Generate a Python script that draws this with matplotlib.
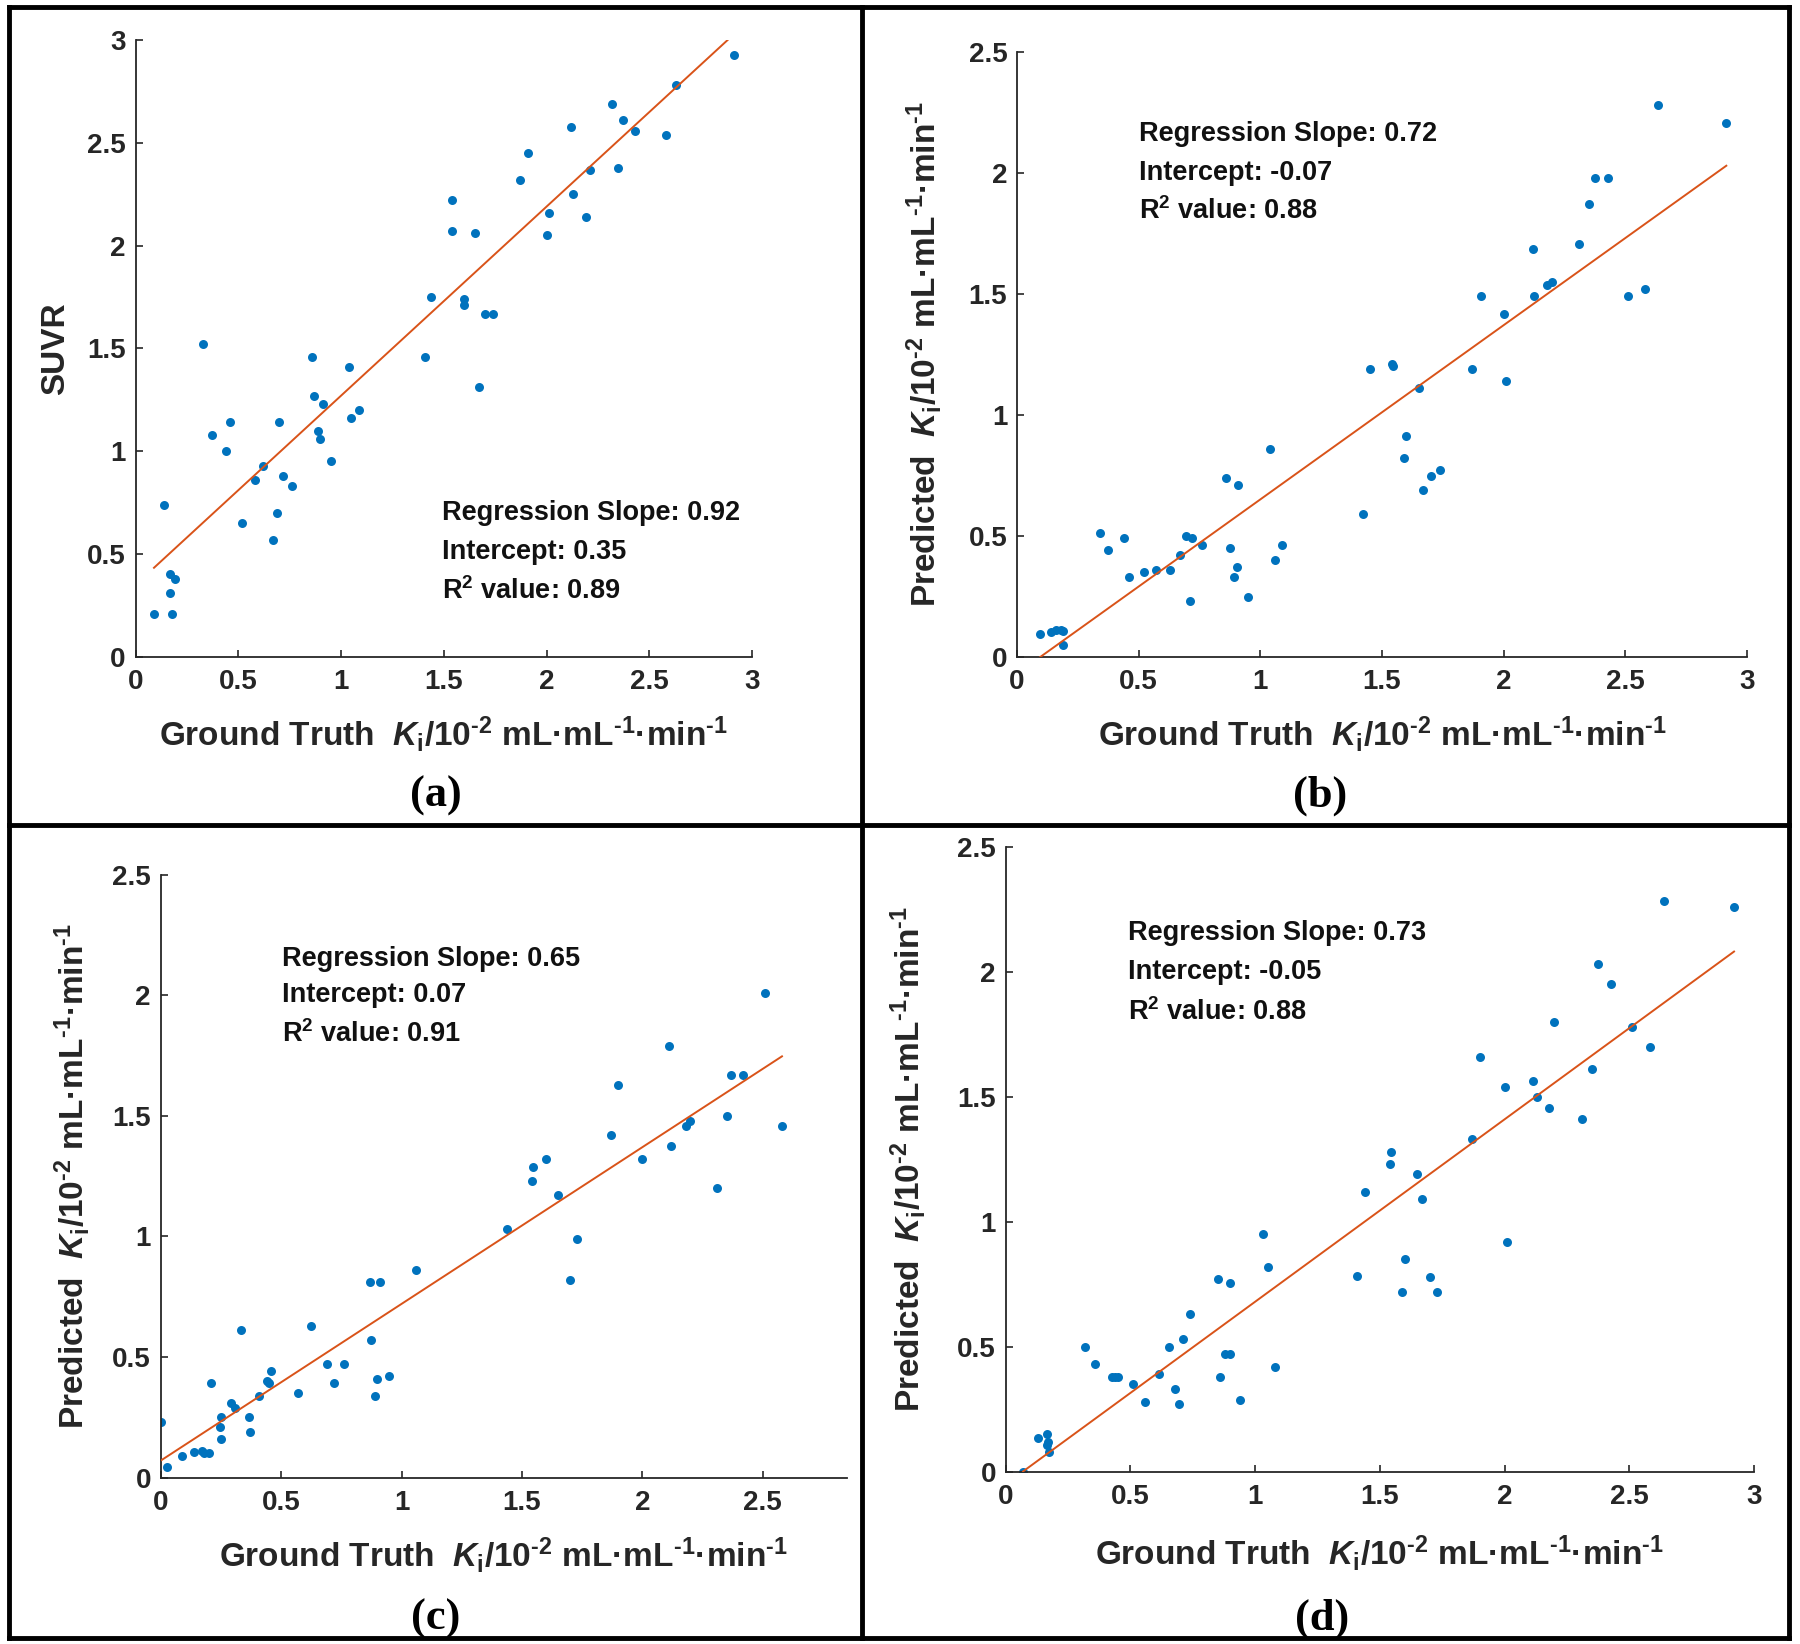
import numpy as np
import matplotlib
matplotlib.use('Agg')
import matplotlib.pyplot as plt
from matplotlib.lines import Line2D

plt.rcParams['font.family'] = ['Liberation Sans', 'DejaVu Sans']
plt.rcParams['font.weight'] = 'bold'
plt.rcParams['axes.labelweight'] = 'bold'
plt.rcParams['mathtext.fontset'] = 'custom'
plt.rcParams['mathtext.rm'] = 'Liberation Sans:bold'
plt.rcParams['mathtext.it'] = 'Liberation Sans:italic:bold'
plt.rcParams['mathtext.bf'] = 'Liberation Sans:bold'

# (a) SUVR vs ground truth Ki
a_x = [0.09, 0.14, 0.17, 0.19, 0.17, 0.18, 0.33, 0.37, 0.44, 0.46, 0.52, 0.58, 0.62,
       0.67, 0.69, 0.70, 0.72, 0.76, 0.86, 0.87, 0.91, 0.89, 0.90, 0.95, 1.04, 1.05,
       1.09, 1.41, 1.44, 1.54, 1.54, 1.60, 1.60, 1.65, 1.67, 1.70, 1.74, 1.87, 1.91,
       2.00, 2.01, 2.12, 2.13, 2.19, 2.21, 2.32, 2.35, 2.37, 2.43, 2.58, 2.63, 2.91]
a_y = [0.21, 0.74, 0.40, 0.38, 0.31, 0.21, 1.52, 1.08, 1.00, 1.14, 0.65, 0.86, 0.93,
       0.57, 0.70, 1.14, 0.88, 0.83, 1.46, 1.27, 1.23, 1.10, 1.06, 0.95, 1.41, 1.16,
       1.20, 1.46, 1.75, 2.22, 2.07, 1.74, 1.71, 2.06, 1.31, 1.67, 1.67, 2.32, 2.45,
       2.05, 2.16, 2.58, 2.25, 2.14, 2.37, 2.69, 2.38, 2.61, 2.56, 2.54, 2.78, 2.93]

# (b)
b_x = [0.095, 0.14, 0.16, 0.18, 0.19, 0.19, 0.34, 0.375, 0.44, 0.46, 0.52, 0.57, 0.63,
       0.67, 0.695, 0.72, 0.76, 0.71, 0.86, 0.91, 0.875, 0.89, 0.905, 0.95, 1.04, 1.06,
       1.09, 1.42, 1.45, 1.54, 1.545, 1.60, 1.59, 1.65, 1.67, 1.70, 1.74, 1.87, 1.905,
       2.00, 2.01, 2.12, 2.125, 2.18, 2.20, 2.31, 2.35, 2.375, 2.43, 2.51, 2.58, 2.635, 2.915]
b_y = [0.094, 0.10, 0.11, 0.11, 0.106, 0.05, 0.51, 0.44, 0.49, 0.33, 0.35, 0.36, 0.36,
       0.42, 0.50, 0.49, 0.46, 0.23, 0.74, 0.71, 0.45, 0.33, 0.37, 0.245, 0.86, 0.40,
       0.46, 0.59, 1.19, 1.21, 1.20, 0.91, 0.82, 1.11, 0.69, 0.745, 0.77, 1.19, 1.49,
       1.415, 1.14, 1.685, 1.49, 1.535, 1.55, 1.705, 1.87, 1.98, 1.98, 1.49, 1.52, 2.28, 2.205]

# (c)
c_x = [0.0, 0.025, 0.09, 0.14, 0.17, 0.18, 0.20, 0.21, 0.25, 0.245, 0.25, 0.29, 0.31,
       0.335, 0.365, 0.37, 0.41, 0.44, 0.46, 0.45, 0.57, 0.625, 0.69, 0.76, 0.72, 0.87,
       0.91, 0.875, 0.90, 0.89, 0.95, 1.06, 1.44, 1.54, 1.545, 1.60, 1.65, 1.70, 1.73,
       1.87, 1.90, 2.00, 2.11, 2.12, 2.18, 2.20, 2.31, 2.35, 2.37, 2.42, 2.51, 2.58]
c_y = [0.23, 0.045, 0.09, 0.105, 0.11, 0.10, 0.10, 0.39, 0.25, 0.21, 0.16, 0.31, 0.29,
       0.61, 0.25, 0.19, 0.34, 0.40, 0.44, 0.39, 0.35, 0.63, 0.47, 0.47, 0.39, 0.81,
       0.81, 0.57, 0.41, 0.34, 0.42, 0.86, 1.03, 1.23, 1.29, 1.32, 1.17, 0.82, 0.99,
       1.42, 1.63, 1.32, 1.79, 1.375, 1.46, 1.48, 1.20, 1.50, 1.67, 1.67, 2.01, 1.46]

# (d)
d_x = [0.07, 0.13, 0.165, 0.17, 0.175, 0.165, 0.32, 0.36, 0.425, 0.44, 0.45, 0.51, 0.56,
       0.615, 0.656, 0.68, 0.695, 0.71, 0.74, 0.85, 0.90, 0.86, 0.88, 0.90, 0.94, 1.03,
       1.05, 1.08, 1.41, 1.44, 1.545, 1.54, 1.65, 1.67, 1.60, 1.59, 1.70, 1.73, 1.87,
       1.90, 2.00, 2.01, 2.115, 2.13, 2.18, 2.20, 2.31, 2.35, 2.375, 2.425, 2.51, 2.585,
       2.64, 2.92]
d_y = [0.0, 0.135, 0.15, 0.12, 0.077, 0.107, 0.50, 0.43, 0.38, 0.38, 0.38, 0.35, 0.28,
       0.39, 0.50, 0.33, 0.27, 0.53, 0.63, 0.77, 0.755, 0.38, 0.47, 0.47, 0.285, 0.95,
       0.82, 0.42, 0.785, 1.12, 1.28, 1.23, 1.19, 1.09, 0.85, 0.72, 0.78, 0.72, 1.33,
       1.66, 1.54, 0.92, 1.565, 1.50, 1.455, 1.80, 1.41, 1.61, 2.03, 1.95, 1.78, 1.70,
       2.285, 2.26]

slopes = [0.92, 0.72, 0.65, 0.73]
intercepts = [0.35, -0.07, 0.07, -0.05]
r2 = [0.89, 0.88, 0.91, 0.88]
panel_tags = ['(a)', '(b)', '(c)', '(d)']

xlab = 'Ground Truth  $K_\\mathrm{i}$/10$^{\\text{-2}}$ mL·mL$^{\\text{-1}}$·min$^{\\text{-1}}$'
ylab_pred = 'Predicted  $K_\\mathrm{i}$/10$^{\\text{-2}}$ mL·mL$^{\\text{-1}}$·min$^{\\text{-1}}$'
ylabels = ['SUVR', ylab_pred, ylab_pred, ylab_pred]

W, H = 1800, 1644
dark = '#262626'
blue = '#0072BD'
orange = '#D95319'

# axes boxes in pixels: x0, x1, ytop, ybottom
boxes = [(135.5, 752, 40.2, 656.7),
         (1017, 1747, 51.7, 656.7),
         (160.7, 847, 874.8, 1477.5),
         (1005.6, 1754, 847, 1471.7)]
xlims = [(0, 3), (0, 3), (0, 2.85), (0, 3)]
ylims = [(0, 3), (0, 2.5), (0, 2.5), (0, 2.5)]
xticks = [np.arange(0, 3.01, 0.5), np.arange(0, 3.01, 0.5), np.arange(0, 2.51, 0.5), np.arange(0, 3.01, 0.5)]
yticks = [np.arange(0, 3.01, 0.5), np.arange(0, 2.51, 0.5), np.arange(0, 2.51, 0.5), np.arange(0, 2.51, 0.5)]
text_pos = [(1.49, [0.70, 0.51, 0.32]), (0.50, [2.16, 2.00, 1.84]),
            (0.505, [2.15, 2.00, 1.84]), (0.49, [2.155, 2.00, 1.84])]
xlab_y = [-0.093, -0.095, -0.095, -0.098]
ylab_x = [-0.105, -0.100, -0.100, -0.104]
tag_pos = [(436, 796), (1320, 796), (436, 1619), (1322, 1619)]

data = [(a_x, a_y), (b_x, b_y), (c_x, c_y), (d_x, d_y)]

fig = plt.figure(figsize=(W / 100, H / 100), dpi=100)

for i in range(4):
    x0, x1, yt, yb = boxes[i]
    ax = fig.add_axes([x0 / W, 1 - yb / H, (x1 - x0) / W, (yb - yt) / H])
    xs, ys = data[i]
    ax.scatter(xs, ys, s=42, color=blue, zorder=2, linewidths=0)
    lx = np.array([min(xs), max(xs)])
    ax.plot(lx, slopes[i] * lx + intercepts[i], color=orange, lw=1.4, zorder=3)
    ax.set_xlim(*xlims[i])
    ax.set_ylim(*ylims[i])
    ax.set_xticks(xticks[i])
    ax.set_yticks(yticks[i])
    ax.set_xticklabels(['%g' % t for t in xticks[i]], fontweight='bold')
    ax.set_yticklabels(['%g' % t for t in yticks[i]], fontweight='bold')
    for s in ['top', 'right']:
        ax.spines[s].set_visible(False)
    for s in ['left', 'bottom']:
        ax.spines[s].set_color(dark)
        ax.spines[s].set_linewidth(1.3)
    ax.tick_params(direction='in', length=5, width=1.2, color=dark,
                   labelsize=20, labelcolor=dark)
    ax.tick_params(axis='x', pad=9)
    ax.tick_params(axis='y', pad=7)
    ax.set_xlabel(xlab, fontsize=24, color=dark, fontweight='bold')
    ax.set_ylabel(ylabels[i], fontsize=24, color=dark, fontweight='bold')
    ax.xaxis.set_label_coords(0.5, xlab_y[i])
    ax.yaxis.set_label_coords(ylab_x[i], 0.5)

    tx, tys = text_pos[i]
    ax.text(tx, tys[0], 'Regression Slope: %.2f' % slopes[i], fontsize=19.5, va='center', color='#111111')
    ax.text(tx, tys[1], 'Intercept: %.2f' % intercepts[i], fontsize=19.5, va='center', color='#111111')
    ax.text(tx, tys[2], 'R$^{2}$ value: %.2f' % r2[i], fontsize=19.5, va='center', color='#111111')

    px, py = tag_pos[i]
    fig.text(px / W, 1 - py / H, panel_tags[i], fontsize=32, ha='center', va='center',
             family='Liberation Serif', weight='bold', color='black')

# frame and dividers
def fig_line(xa, ya, xb, yb):
    fig.add_artist(Line2D([xa / W, xb / W], [1 - ya / H, 1 - yb / H],
                          transform=fig.transFigure, color='black', lw=3.5))

fig_line(9, 7, 1789, 7)
fig_line(9, 1638, 1789, 1638)
fig_line(9, 7, 9, 1638)
fig_line(1789, 7, 1789, 1638)
fig_line(862, 7, 862, 1638)
fig_line(9, 825, 1789, 825)

fig.savefig('out.png', dpi=100)
plt.close()
